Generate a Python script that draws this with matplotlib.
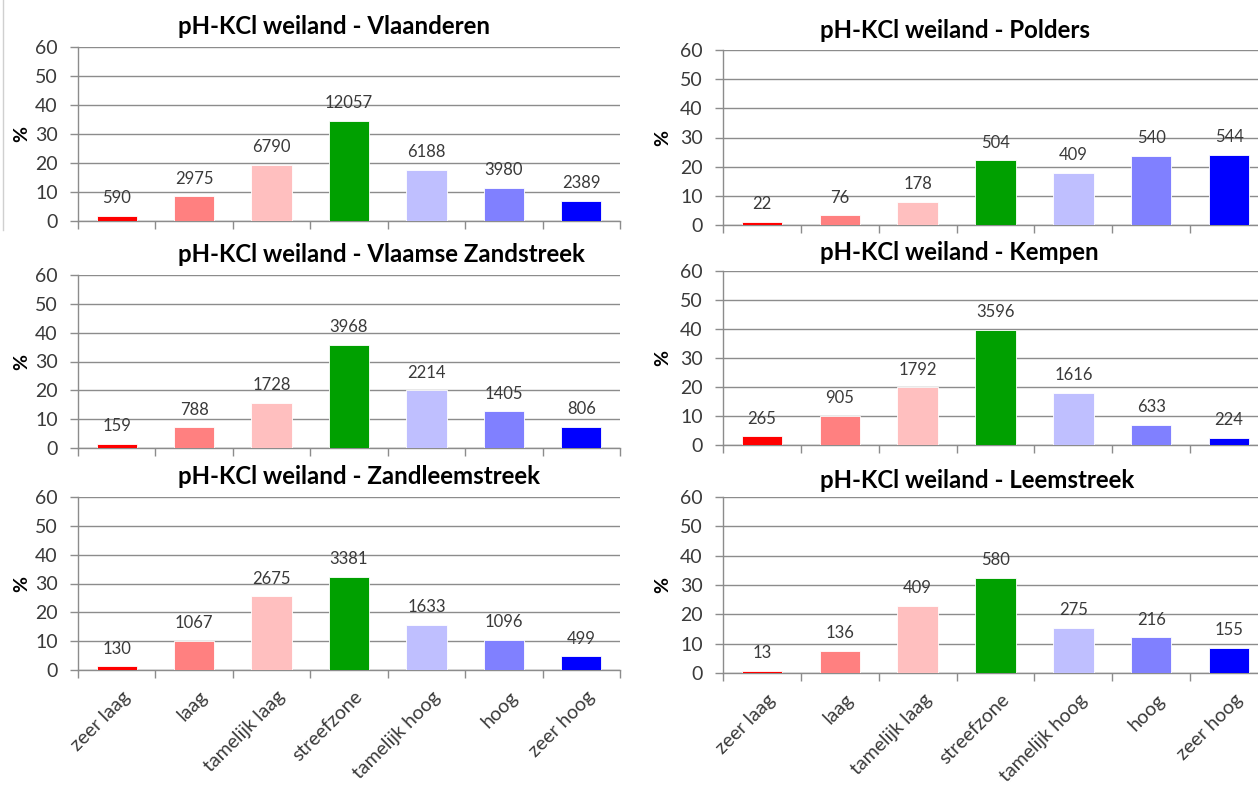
import matplotlib
matplotlib.use("Agg")
import matplotlib.pyplot as plt
import matplotlib.transforms as mtransforms
from matplotlib.lines import Line2D
import numpy as np

plt.rcParams['font.family'] = ['Lato', 'DejaVu Sans']

categories = ["zeer laag", "laag", "tamelijk laag", "streefzone",
              "tamelijk hoog", "hoog", "zeer hoog"]
colors = ["#FF0000", "#FF8080", "#FFBFBF", "#00A000",
          "#BFBFFF", "#8080FF", "#0000FF"]

vlaanderen = [590, 2975, 6790, 12057, 6188, 3980, 2389]
polders = [22, 76, 178, 504, 409, 540, 544]
vlaamse_zandstreek = [159, 788, 1728, 3968, 2214, 1405, 806]
kempen = [265, 905, 1792, 3596, 1616, 633, 224]
zandleemstreek = [130, 1067, 2675, 3381, 1633, 1096, 499]
leemstreek = [13, 136, 409, 580, 275, 216, 155]

y_ticks = [0, 10, 20, 30, 40, 50, 60]

W, H = 1258, 785
fig = plt.figure(figsize=(W / 100, H / 100), dpi=100)

# title, counts, plot box in pixels (x0, x1, ytop, ybottom), title position, "%" x, category labels shown
panels = [
    ("pH-KCl weiland - Vlaanderen", vlaanderen, (78, 620, 47, 221), (178, 27), 22, False),
    ("pH-KCl weiland - Polders", polders, (723, 1268, 50, 225), (820, 30), 663, False),
    ("pH-KCl weiland - Vlaamse Zandstreek", vlaamse_zandstreek, (78, 620, 275, 448), (178, 255), 22, False),
    ("pH-KCl weiland - Kempen", kempen, (723, 1268, 271, 445), (820, 252), 663, False),
    ("pH-KCl weiland - Zandleemstreek", zandleemstreek, (78, 620, 497, 670), (178, 476), 22, True),
    ("pH-KCl weiland - Leemstreek", leemstreek, (723, 1268, 497, 673), (820, 480), 663, True),
]

grid_col = "#8C8C8C"
text_col = "#3A3A3A"
x = np.arange(len(categories))

for title, counts, (x0, x1, yt, yb), (tx, ty), ylx, show_cats in panels:
    ax = fig.add_axes([x0 / W, 1 - yb / H, (x1 - x0) / W, (yb - yt) / H])
    counts = np.asarray(counts, dtype=float)
    pct = counts / counts.sum() * 100
    ax.bar(x, pct, width=0.52, color=colors, edgecolor="white", linewidth=0.6, zorder=3)
    for xi, p, c in zip(x, pct, counts):
        ax.annotate(f"{int(c)}", (xi, p), xytext=(0, 7), textcoords="offset points",
                    ha="center", va="bottom", fontsize=12, color=text_col)

    ax.set_xlim(-0.5, len(categories) - 0.5)
    ax.set_ylim(0, 60)
    ax.set_yticks(y_ticks)
    ax.yaxis.grid(True, color=grid_col, linewidth=1.0, zorder=0)
    ax.set_axisbelow(True)
    for s in ("top", "right"):
        ax.spines[s].set_visible(False)
    for s in ("left", "bottom"):
        ax.spines[s].set_color(grid_col)
        ax.spines[s].set_linewidth(1.0)
    ax.tick_params(axis="y", direction="out", length=5.5, width=1.0, color=grid_col,
                   labelsize=14, labelcolor=text_col, pad=9)

    ax.set_xticks(np.arange(len(categories) + 1) - 0.5, minor=True)
    ax.tick_params(axis="x", which="minor", direction="out", length=5.5, width=1.0, color=grid_col)
    ax.set_xticks(x)
    if show_cats:
        ax.set_xticklabels(categories, rotation=45, ha="right", va="top",
                           rotation_mode="anchor", fontsize=14, color=text_col)
        ax.tick_params(axis="x", which="major", length=0, pad=13)
        shift = mtransforms.ScaledTranslation(5 / 100, 0, fig.dpi_scale_trans)
        for lbl in ax.get_xticklabels():
            lbl.set_transform(lbl.get_transform() + shift)
    else:
        ax.set_xticklabels([])
        ax.tick_params(axis="x", which="major", length=0)

    fig.text(tx / W, 1 - ty / H, title, ha="left", va="center",
             fontsize=17.3, fontweight="bold", color="black")
    fig.text(ylx / W, 1 - ((yt + yb) / 2) / H, "%", ha="center", va="center",
             rotation=90, fontsize=14, fontweight="bold", color="black")

# thin frame edge along the left of the first chart
fig.add_artist(Line2D([3 / W, 3 / W], [1 - 230 / H, 1.0], transform=fig.transFigure,
                      color="#D0D0D0", linewidth=1.0))

fig.savefig("out.png", dpi=100, facecolor="white")
